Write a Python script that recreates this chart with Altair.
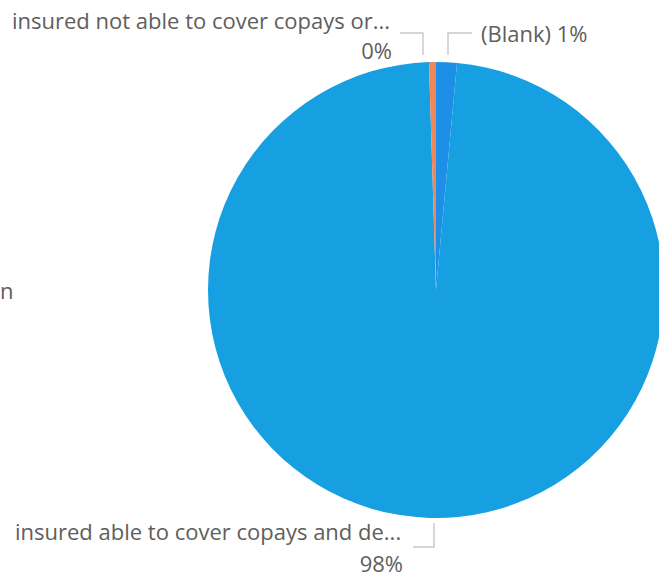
import altair as alt
import pandas as pd

# Data
categories = ["(Blank)", "insured able to cover copays and deductibles", "insured not able to cover copays or deductibles"]
values = [1.47, 98.04, 0.49]
order = [0, 1, 2]
colors = ["#1E8FE6", "#16A0E1", "#F0875A"]

# label texts
label_names = ["(Blank) 1%", "insured not able to cover copays or...", "0%",
               "insured able to cover copays and de...", "98%", "n"]

pie_df = pd.DataFrame({"category": categories, "value": values, "order": order})

# layout (pixel positions of annotations)
W, H = 659, 578
CX, CY, R = 436, 290, 228
FONT = "Open Sans"
TXT = "#605E5C"

xs = alt.Scale(domain=[0, W], range=[0, W], zero=False, nice=False)
ys = alt.Scale(domain=[0, H], range=[0, H], zero=False, nice=False)

pie = alt.Chart(pie_df).mark_arc(stroke=None).encode(
    theta=alt.Theta("value:Q", stack=True),
    order=alt.Order("order:Q"),
    color=alt.Color("category:N", scale=alt.Scale(domain=categories, range=colors), legend=None),
    x=alt.value(CX), y=alt.value(CY), radius=alt.value(R),
)

label_layout = pd.DataFrame({
    "text": label_names,
    "x": [481, 12, 392, 15, 403, 0],
    "y": [35, 22, 52, 533, 565, 292],
    "align": ["left", "left", "right", "left", "right", "left"],
})

def text_layer(df, align):
    return alt.Chart(df).mark_text(
        align=align, baseline="middle", font=FONT, fontSize=22, color=TXT
    ).encode(
        x=alt.X("x:Q", scale=xs, axis=None),
        y=alt.Y("y:Q", scale=ys, axis=None),
        text="text:N",
    )

texts_left = text_layer(label_layout[label_layout["align"] == "left"], "left")
texts_right = text_layer(label_layout[label_layout["align"] == "right"], "right")

# leader lines as polylines
leaders = pd.DataFrame({
    "line": ["a", "a", "a", "b", "b", "b", "c", "c", "c"],
    "pt": [0, 1, 2, 0, 1, 2, 0, 1, 2],
    "x": [400, 423, 423, 448, 448, 472, 413, 434, 434],
    "y": [33, 33, 55, 55, 33, 33, 547, 547, 523],
})
lead = alt.Chart(leaders).mark_line(color="#C8C8C8", strokeWidth=1.4).encode(
    x=alt.X("x:Q", scale=xs, axis=None),
    y=alt.Y("y:Q", scale=ys, axis=None),
    detail="line:N",
    order="pt:Q",
)

chart = alt.layer(pie, lead, texts_left, texts_right).properties(
    width=W, height=H, padding=0, autosize=alt.AutoSizeParams(type="none"),
    background="white",
).configure_view(strokeWidth=0)

chart.save("out.html", embed_options={"renderer": "svg", "actions": False})
